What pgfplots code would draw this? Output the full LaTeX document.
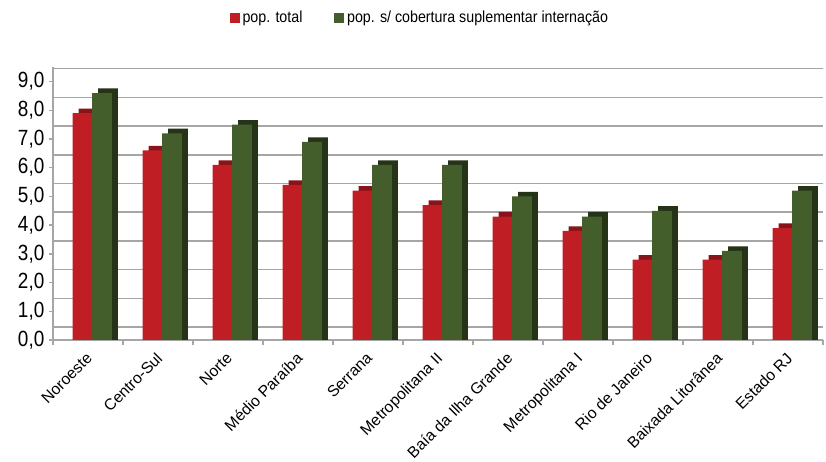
\documentclass[border=0pt]{standalone}
\usepackage{fontspec}
\setmainfont{Liberation Sans}
\newfontfamily\narrowfont[FakeStretch=0.86]{Liberation Sans}
\newfontfamily\legfont[FakeStretch=0.89]{Liberation Sans}
\usepackage{pgfplots}
\pgfplotsset{compat=1.18}
\usepackage{pgfplotstable}

\definecolor{redf}{HTML}{BE1E24}
\definecolor{redd}{HTML}{861418}
\definecolor{grnf}{HTML}{435D2B}
\definecolor{grnd}{HTML}{253317}
\definecolor{gridc}{HTML}{A6A6A6}

% indices de cobertura por regiao
\pgfplotstableread{
x red green
0 7.9 8.6
1 6.6 7.2
2 6.1 7.5
3 5.4 6.9
4 5.2 6.1
5 4.7 6.1
6 4.3 5.0
7 3.8 4.3
8 2.8 4.5
9 2.8 3.1
10 3.9 5.2
}\data

\begin{document}
\begin{tikzpicture}
\begin{axis}[
  scale only axis, width=577.5pt, height=205pt,
  xmin=-0.5, xmax=10.5, ymin=0, ymax=9.52,
  ybar, bar width=0.28,
  axis x line*=bottom, axis y line*=left,
  axis line style={gridc, line width=1pt},
  xtick={0,...,10},
  xticklabels={Noroeste, Centro-Sul, Norte, Médio Paraíba, Serrana, Metropolitana II, Baía da Ilha Grande, Metropolitana I, Rio de Janeiro, Baixada Litorânea, Estado RJ},
  x tick label style={xshift=-2pt, yshift=-4pt, rotate=45, anchor=north east, font=\fontsize{11.8}{13}\selectfont, inner sep=1pt},
  major x tick style={draw=none},
  minor xtick={-0.5,0.5,...,10.5},
  minor x tick style={gridc, line width=1pt},
  minor tick length=4pt, major tick length=3pt,
  tick align=outside,
  ytick={0,...,9},
  ytick style={gridc, line width=1pt},
  y tick label style={font=\narrowfont\fontsize{16.5}{18}\selectfont,
    /pgf/number format/fixed, /pgf/number format/fixed zerofill,
    /pgf/number format/precision=1, /pgf/number format/use comma,
    /pgf/number format/assume math mode=true},
  extra y ticks={0.45,1.45,2.45,3.45,4.45,5.45,6.45,7.45,8.45,9.45},
  extra y tick labels={},
  extra y tick style={grid=major, major tick length=0pt, major grid style={gridc, line width=1.2pt}},
  legend style={at={(0.477,1.178)}, anchor=center, draw=none, legend columns=2,
    font=\legfont\fontsize{12}{13}\selectfont,
    /tikz/every even column/.append style={column sep=22pt}},
  legend image code/.code={\fill[#1] (0pt,-3.8pt) rectangle (7.5pt,3.8pt);},
]
\addplot[fill=redd, draw=none, bar shift=0.006, forget plot] table[x=x, y expr=\thisrow{red}+0.16]{\data};
\addplot[fill=redf, draw=none, bar shift=-0.08] table[x=x, y=red]{\data};
\addplot[fill=grnd, draw=none, bar shift=0.286, forget plot] table[x=x, y expr=\thisrow{green}+0.16]{\data};
\addplot[fill=grnf, draw=none, bar shift=0.2] table[x=x, y=green]{\data};
\legend{pop. total, pop. s/ cobertura suplementar internação}
\coordinate (bl) at (rel axis cs:0,0);
\coordinate (tr) at (rel axis cs:1,1);
\end{axis}
\path ([shift={(-39.75pt,-87.75pt)}]bl) rectangle ([shift={(2.25pt,50pt)}]tr);
\end{tikzpicture}
\end{document}
